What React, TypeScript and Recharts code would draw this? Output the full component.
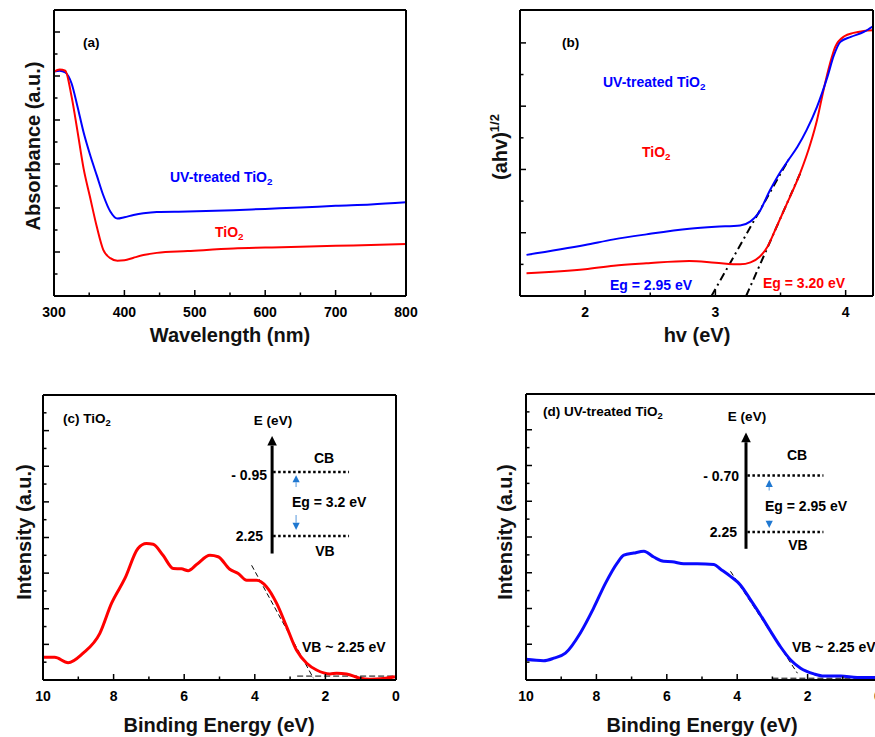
import React from "react";
import { LineChart, Line, XAxis, YAxis, ReferenceLine } from "recharts";

const BLACK = "#000000";
const RED = "#ff0000";
const BLUE = "#0000ff";
const ARROW_BLUE = "#1f78d1";
const FONT = '"Liberation Sans", Arial, Helvetica, sans-serif';

// (a) UV-vis absorbance
const wavelengthNm = [300, 308, 316, 325, 333, 342, 351, 361, 370, 380, 390, 400, 413, 427, 446, 490, 555, 600, 650, 700, 750, 800];
const absorbanceUv = [5.1, 5.12, 5.08, 4.83, 4.33, 3.72, 3.22, 2.73, 2.29, 1.92, 1.76, 1.79, 1.84, 1.88, 1.91, 1.92, 1.95, 1.98, 2.01, 2.05, 2.08, 2.13];
const absorbanceTiO2 = [5.1, 5.15, 5.12, 4.53, 3.78, 2.9, 2.26, 1.56, 1.05, 0.86, 0.8, 0.81, 0.87, 0.93, 0.98, 1.02, 1.08, 1.1, 1.12, 1.14, 1.16, 1.18];
const wavelengthTicks = [300, 350, 400, 450, 500, 550, 600, 650, 700, 750, 800];
const wavelengthLabels = [300, 400, 500, 600, 700, 800];
const absorbanceTicks = [0.5, 1, 1.5, 2, 2.5, 3, 3.5, 4, 4.5, 5, 5.5, 6];
const absorbanceMajor = [1, 2, 3, 4, 5, 6];

// (b) Tauc plot
const taucEvUv = [1.55, 2.0, 2.22, 2.47, 2.8, 3.0, 3.19, 3.27, 3.33, 3.42, 3.5, 3.56, 3.63, 3.7, 3.78, 3.86, 3.91, 3.96, 4.04, 4.14, 4.21];
const taucUv = [0.65, 0.805, 0.895, 0.974, 1.063, 1.095, 1.116, 1.18, 1.305, 1.674, 1.963, 2.147, 2.358, 2.621, 2.989, 3.463, 3.805, 4.016, 4.095, 4.174, 4.263];
const taucEvTiO2 = [1.55, 2.0, 2.22, 2.47, 2.8, 3.0, 3.19, 3.27, 3.34, 3.4, 3.47, 3.55, 3.65, 3.73, 3.78, 3.83, 3.88, 3.92, 3.99, 4.06, 4.14, 4.21];
const taucTiO2 = [0.358, 0.421, 0.479, 0.516, 0.553, 0.526, 0.5, 0.532, 0.621, 0.779, 1.095, 1.463, 1.937, 2.41, 2.779, 3.253, 3.674, 3.937, 4.105, 4.158, 4.189, 4.2];
const tangentUvEv = [2.97, 3.56];
const tangentUvY = [0, 2.15];
const tangentTiO2Ev = [3.236, 3.651];
const tangentTiO2Y = [0, 1.937];
const taucXTicks = [2, 2.5, 3, 3.5, 4];
const taucXLabels = [2, 3, 4];
const taucYTicks = [0.5, 1, 1.5, 2, 2.5, 3, 3.5, 4];
const taucYMajor = [1, 2, 3, 4];

// (c) VB XPS, TiO2
const beTiO2 = [10.0, 9.67, 9.29, 8.87, 8.39, 8.06, 7.68, 7.31, 7.07, 6.88, 6.6, 6.31, 6.08, 5.89, 5.65, 5.27, 5.04, 4.71, 4.47, 4.23, 3.95, 3.67, 3.38, 3.1, 2.82, 2.53, 2.25, 1.87, 1.68, 1.4, 1.02, 0.74, 0.36, 0.03];
const intensityTiO2 = [0.636, 0.636, 0.486, 0.75, 1.31, 2.15, 2.85, 3.69, 3.83, 3.81, 3.5, 3.13, 3.12, 3.07, 3.24, 3.5, 3.46, 3.11, 2.99, 2.8, 2.8, 2.62, 2.15, 1.5, 0.84, 0.47, 0.28, 0.17, 0.19, 0.17, 0.05, 0.02, 0.04, 0.09];
const vbTangentTiO2Be = [4.09, 2.34];
const vbTangentTiO2Y = [3.22, 0.05];
const baselineTiO2Be = [2.8, 0];
const baselineTiO2Y = [0.11, 0.11];

// (d) VB XPS, UV-treated TiO2
const beUv = [10.0, 9.5, 9.21, 8.88, 8.46, 8.08, 7.74, 7.41, 7.22, 6.94, 6.65, 6.37, 6.09, 5.85, 5.52, 5.14, 4.66, 4.47, 4.19, 3.91, 3.62, 3.34, 3.05, 2.77, 2.48, 2.2, 1.82, 1.54, 1.06, 0.59, 0.0];
const intensityUv = [0.58, 0.54, 0.61, 0.75, 1.31, 2.01, 2.71, 3.27, 3.49, 3.55, 3.6, 3.44, 3.32, 3.31, 3.25, 3.25, 3.23, 3.1, 2.9, 2.66, 2.24, 1.82, 1.36, 0.93, 0.56, 0.33, 0.17, 0.11, 0.11, 0.07, 0.07];
const vbTangentUvBe = [4.19, 2.29];
const vbTangentUvY = [3.04, 0.19];
const baselineUvBe = [3.0, 0];
const baselineUvY = [0.05, 0.05];

const beTicks = [10, 9, 8, 7, 6, 5, 4, 3, 2, 1, 0];
const beLabels = [10, 8, 6, 4, 2, 0];
const intensityTicks = [0.5, 1, 1.5, 2, 2.5, 3, 3.5, 4, 4.5, 5, 5.5, 6, 6.5, 7, 7.5];
const intensityMajor = [1, 2, 3, 4, 5, 6, 7];

// band diagram insets (in the panel's own BE / intensity units)
const bandTiO2 = { axisBe: 3.51, axisY: [3.55, 6.85], lineBe: [3.48, 1.33], cbY: 5.84, vbY: 4.04, egBe: 2.83, upY: [5.42, 5.75], downY: [4.63, 4.21] };
const bandUv = { axisBe: 3.75, axisY: [3.67, 6.92], lineBe: [3.71, 1.55], cbY: 5.72, vbY: 4.14, egBe: 3.09, upY: [5.3, 5.6], downY: [4.43, 4.25] };

const zip = (xs: number[], ys: number[]) => xs.map((x, i) => ({ x, y: ys[i] }));

const axisStyle = { stroke: BLACK, strokeWidth: 2 };

function bottomTick(major: number[]) {
  return (p: any) => {
    const v = p.payload.value;
    const isMajor = major.includes(v);
    return (
      <g>
        <line x1={p.x} y1={p.y} x2={p.x} y2={p.y - (isMajor ? 6 : 3.5)} stroke={BLACK} strokeWidth={1.5} />
        {isMajor && (
          <text x={p.x} y={p.y + 17} textAnchor="middle" dominantBaseline="middle" fontSize={14} fontWeight="bold" fill={BLACK}>
            {v}
          </text>
        )}
      </g>
    );
  };
}

function sideTick(major: number[], dir: 1 | -1) {
  return (p: any) => {
    const isMajor = major.includes(p.payload.value);
    return <line x1={p.x} y1={p.y} x2={p.x + dir * (isMajor ? 6 : 3.5)} y2={p.y} stroke={BLACK} strokeWidth={1.5} />;
  };
}

function arrowShape(color: string, lineColor: string, width: number, head: number) {
  return (p: any) => {
    const { x1, y1, x2, y2 } = p;
    const dx = x2 - x1;
    const dy = y2 - y1;
    const len = Math.hypot(dx, dy) || 1;
    const ux = dx / len;
    const uy = dy / len;
    const bx = x2 - ux * head * 1.2;
    const by = y2 - uy * head * 1.2;
    return (
      <g>
        <line x1={x1} y1={y1} x2={bx} y2={by} stroke={lineColor} strokeWidth={width} />
        <polygon points={`${x2},${y2} ${bx - uy * head * 0.6},${by + ux * head * 0.6} ${bx + uy * head * 0.6},${by - ux * head * 0.6}`} fill={color} />
      </g>
    );
  };
}

function Note({ x, y, align = "left", color = BLACK, size = 14, children }: any) {
  const tx = align === "left" ? "0" : align === "center" ? "-50%" : "-100%";
  return (
    <div style={{ position: "absolute", left: x, top: y, transform: `translate(${tx}, -50%)`, color, fontSize: size, fontWeight: "bold", whiteSpace: "nowrap", lineHeight: 1 }}>
      {children}
    </div>
  );
}

function Title({ x, y, rotate = false, children }: any) {
  return (
    <div style={{ position: "absolute", left: x, top: y, transform: `translate(-50%, -50%)${rotate ? " rotate(-90deg)" : ""}`, fontSize: 20, fontWeight: "bold", whiteSpace: "nowrap", lineHeight: 1, color: "#111" }}>
      {children}
    </div>
  );
}

const Sub = ({ children }: any) => <sub style={{ fontSize: "0.7em", verticalAlign: "-0.3em", lineHeight: 0 }}>{children}</sub>;

function BandInset({ band }: any) {
  return (
    <>
      <ReferenceLine segment={[{ x: band.axisBe, y: band.axisY[0] }, { x: band.axisBe, y: band.axisY[1] }]} shape={arrowShape(BLACK, BLACK, 3, 8)} ifOverflow="visible" />
      <ReferenceLine segment={[{ x: band.lineBe[0], y: band.cbY }, { x: band.lineBe[1], y: band.cbY }]} stroke={BLACK} strokeWidth={2.5} strokeDasharray="2.5 2.5" ifOverflow="visible" />
      <ReferenceLine segment={[{ x: band.lineBe[0], y: band.vbY }, { x: band.lineBe[1], y: band.vbY }]} stroke={BLACK} strokeWidth={2.5} strokeDasharray="2.5 2.5" ifOverflow="visible" />
      <ReferenceLine segment={[{ x: band.egBe, y: band.upY[0] }, { x: band.egBe, y: band.upY[1] }]} shape={arrowShape(ARROW_BLUE, "#8fbbe8", 1.5, 6)} ifOverflow="visible" />
      <ReferenceLine segment={[{ x: band.egBe, y: band.downY[0] }, { x: band.egBe, y: band.downY[1] }]} shape={arrowShape(ARROW_BLUE, "#8fbbe8", 1.5, 6)} ifOverflow="visible" />
    </>
  );
}

function XpsPanel({ be, intensity, color, tanBe, tanY, baseBe, baseY, band, width, margin }: any) {
  return (
    <LineChart width={width} height={367} margin={margin}>
      <XAxis dataKey="x" type="number" domain={[0, 10]} reversed ticks={beTicks} interval={0} tick={bottomTick(beLabels)} tickLine={false} tickSize={0} tickMargin={0} height={30} axisLine={axisStyle} />
      <XAxis xAxisId="top" orientation="top" type="number" domain={[0, 10]} reversed tick={false} tickLine={false} height={2} axisLine={axisStyle} />
      <YAxis type="number" domain={[0, 8]} ticks={intensityTicks} interval={0} tick={sideTick(intensityMajor, 1)} tickLine={false} tickSize={0} tickMargin={0} width={30} axisLine={axisStyle} />
      <YAxis yAxisId="r" orientation="right" type="number" domain={[0, 8]} tick={false} tickLine={false} width={margin.right === 0 ? 2 : 10} axisLine={axisStyle} />
      <ReferenceLine segment={zip(tanBe, tanY)} stroke={BLACK} strokeWidth={1} strokeDasharray="5 3" ifOverflow="visible" />
      <ReferenceLine segment={zip(baseBe, baseY)} stroke={BLACK} strokeWidth={1} strokeDasharray="6 3" ifOverflow="visible" />
      <Line data={zip(be, intensity)} dataKey="y" type="monotone" stroke={color} strokeWidth={3} dot={false} isAnimationActive={false} />
      {BandInset({ band })}
    </LineChart>
  );
}

export default function App() {
  return (
    <div style={{ position: "fixed", left: 0, top: 0, width: 875, height: 737, overflow: "hidden", background: "#fff", fontFamily: FONT, color: BLACK }}>
      {/* (a) absorbance */}
      <div style={{ position: "absolute", left: 0, top: 0 }}>
        <LineChart width={430} height={360} margin={{ top: 8, right: 14, bottom: 34, left: 24 }}>
          <XAxis dataKey="x" type="number" domain={[300, 800]} ticks={wavelengthTicks} interval={0} tick={bottomTick(wavelengthLabels)} tickLine={false} tickSize={0} tickMargin={0} height={30} axisLine={axisStyle} />
          <XAxis xAxisId="top" orientation="top" type="number" domain={[300, 800]} tick={false} tickLine={false} height={2} axisLine={axisStyle} />
          <YAxis type="number" domain={[0, 6.5]} ticks={absorbanceTicks} interval={0} tick={sideTick(absorbanceMajor, 1)} tickLine={false} tickSize={0} tickMargin={0} width={30} axisLine={axisStyle} />
          <YAxis yAxisId="r" orientation="right" type="number" domain={[0, 6.5]} ticks={absorbanceTicks} interval={0} tick={sideTick(absorbanceMajor, -1)} tickLine={false} tickSize={0} tickMargin={0} width={10} axisLine={axisStyle} />
          <Line data={zip(wavelengthNm, absorbanceUv)} dataKey="y" type="monotone" stroke={BLUE} strokeWidth={2} dot={false} isAnimationActive={false} />
          <Line data={zip(wavelengthNm, absorbanceTiO2)} dataKey="y" type="monotone" stroke={RED} strokeWidth={2} dot={false} isAnimationActive={false} />
        </LineChart>
      </div>

      {/* (b) Tauc plot */}
      <div style={{ position: "absolute", left: 440, top: 0 }}>
        <LineChart width={435} height={360} margin={{ top: 8, right: 0, bottom: 34, left: 50 }}>
          <XAxis dataKey="x" type="number" domain={[1.5, 4.21]} ticks={taucXTicks} interval={0} tick={bottomTick(taucXLabels)} tickLine={false} tickSize={0} tickMargin={0} height={30} axisLine={axisStyle} />
          <XAxis xAxisId="top" orientation="top" type="number" domain={[1.5, 4.21]} tick={false} tickLine={false} height={2} axisLine={axisStyle} />
          <YAxis type="number" domain={[0, 4.52]} ticks={taucYTicks} interval={0} tick={sideTick(taucYMajor, 1)} tickLine={false} tickSize={0} tickMargin={0} width={30} axisLine={axisStyle} />
          <YAxis yAxisId="r" orientation="right" type="number" domain={[0, 4.52]} ticks={taucYTicks} interval={0} tick={sideTick(taucYMajor, -1)} tickLine={false} tickSize={0} tickMargin={0} width={2} axisLine={axisStyle} />
          <ReferenceLine segment={zip(tangentUvEv, tangentUvY)} stroke={BLACK} strokeWidth={2} strokeDasharray="8 4 2 4" ifOverflow="visible" />
          <ReferenceLine segment={zip(tangentTiO2Ev, tangentTiO2Y)} stroke={BLACK} strokeWidth={2} strokeDasharray="8 4 2 4" ifOverflow="visible" />
          <Line data={zip(taucEvTiO2, taucTiO2)} dataKey="y" type="monotone" stroke={RED} strokeWidth={2} dot={false} isAnimationActive={false} />
          <Line data={zip(taucEvUv, taucUv)} dataKey="y" type="monotone" stroke={BLUE} strokeWidth={2} dot={false} isAnimationActive={false} />
        </LineChart>
      </div>

      {/* (c) VB XPS TiO2 */}
      <div style={{ position: "absolute", left: 0, top: 370 }}>
        <XpsPanel be={beTiO2} intensity={intensityTiO2} color={RED} tanBe={vbTangentTiO2Be} tanY={vbTangentTiO2Y} baseBe={baselineTiO2Be} baseY={baselineTiO2Y} band={bandTiO2} width={430} margin={{ top: 23, right: 24, bottom: 27, left: 13 }} />
      </div>

      {/* (d) VB XPS UV-treated TiO2 */}
      <div style={{ position: "absolute", left: 480, top: 370 }}>
        <XpsPanel be={beUv} intensity={intensityUv} color="#0a0aff" tanBe={vbTangentUvBe} tanY={vbTangentUvY} baseBe={baselineUvBe} baseY={baselineUvY} band={bandUv} width={400} margin={{ top: 22, right: 0, bottom: 27, left: 16 }} />
      </div>

      {/* annotations (a) */}
      <Note x={83} y={43} size={13.5}>(a)</Note>
      <Note x={170} y={177} color={BLUE}>UV-treated TiO<Sub>2</Sub></Note>
      <Note x={215} y={232} color={RED}>TiO<Sub>2</Sub></Note>
      <Title x={230} y={335}>Wavelength (nm)</Title>
      <Title x={33} y={146} rotate>Absorbance (a.u.)</Title>

      {/* annotations (b) */}
      <Note x={562} y={43} size={13.5}>(b)</Note>
      <Note x={603} y={82} color={BLUE}>UV-treated TiO<Sub>2</Sub></Note>
      <Note x={642} y={152} color={RED}>TiO<Sub>2</Sub></Note>
      <Note x={610} y={285} color={BLUE}>Eg = 2.95 eV</Note>
      <Note x={763} y={283} color={RED}>Eg = 3.20 eV</Note>
      <Title x={697} y={335}>hv (eV)</Title>
      <Title x={500} y={147} rotate>(ahv)<sup style={{ fontSize: "0.65em", verticalAlign: "0.6em", lineHeight: 0 }}>1/2</sup></Title>

      {/* annotations (c) */}
      <Note x={63} y={419} size={13.5}>(c) TiO<Sub>2</Sub></Note>
      <Note x={273} y={421} align="center" size={13.5}>E (eV)</Note>
      <Note x={324} y={458} align="center">CB</Note>
      <Note x={267} y={475} align="right">- 0.95</Note>
      <Note x={292} y={502}>Eg = 3.2 eV</Note>
      <Note x={263} y={536} align="right">2.25</Note>
      <Note x={325} y={551} align="center">VB</Note>
      <Note x={302} y={647}>VB ~ 2.25 eV</Note>
      <Title x={219} y={725}>Binding Energy (eV)</Title>
      <Title x={24} y={532} rotate>Intensity (a.u.)</Title>

      {/* annotations (d) */}
      <Note x={543} y={412} size={13.5}>(d) UV-treated TiO<Sub>2</Sub></Note>
      <Note x={747} y={417} align="center" size={13.5}>E (eV)</Note>
      <Note x={797} y={455} align="center">CB</Note>
      <Note x={739} y={476} align="right">- 0.70</Note>
      <Note x={765} y={506}>Eg = 2.95 eV</Note>
      <Note x={737} y={532} align="right">2.25</Note>
      <Note x={798} y={545} align="center">VB</Note>
      <Note x={792} y={647}>VB ~ 2.25 eV</Note>
      <Title x={702} y={725}>Binding Energy (eV)</Title>
      <Title x={505} y={532} rotate>Intensity (a.u.)</Title>
    </div>
  );
}
